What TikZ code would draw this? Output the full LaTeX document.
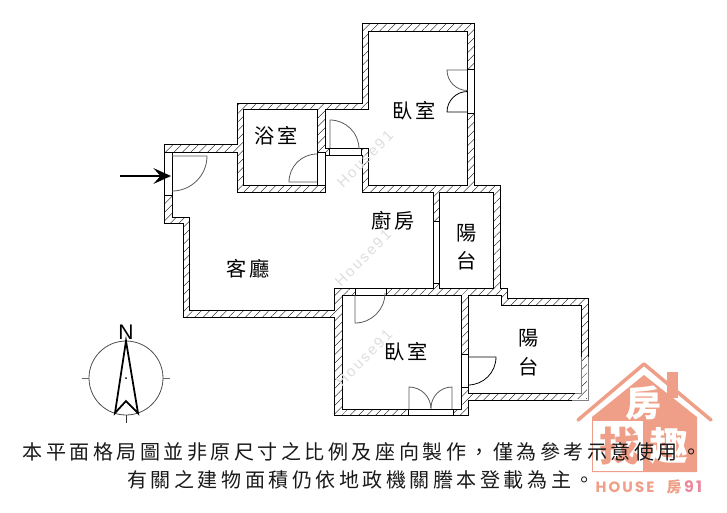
\documentclass[tikz,border=0pt]{standalone}
\usepackage{fontspec}
\usepackage{tikz}
\usetikzlibrary{arrows.meta,patterns.meta}
\setmainfont{Noto Sans CJK TC}
\newfontfamily\cjknote[LetterSpace=17.5]{Noto Sans CJK TC}
\newfontfamily\markfont[LetterSpace=14]{Liberation Sans}
\newfontfamily\logofont[LetterSpace=14]{Poppins}
\newfontfamily\northfont{Liberation Sans}
\definecolor{logosalmon}{HTML}{EF9F87}
\definecolor{logopink}{HTML}{E98A9C}
\tikzset{
  wall/.style={draw=black,line width=0.55pt,pattern={Lines[angle=45,distance=3.4pt,line width=0.2pt]}},
  room/.style={draw=black,line width=0.55pt,fill=white},
  opening/.style={draw=black,line width=0.5pt,fill=white},
  leaf/.style={draw=black!65,line width=0.45pt},
  roomlabel/.style={font=\fontsize{11.5}{12}\selectfont,inner sep=0pt},
  notetext/.style={font=\fontsize{11.4}{12}\cjknote,text=black!90,inner sep=0pt},
  watermark/.style={font=\fontsize{8.5}{9}\markfont,text=black!13,rotate=45,inner sep=0pt}
}
\begin{document}
\begin{tikzpicture}[x=0.02cm,y=-0.02cm,>=Stealth]
	\useasboundingbox (0,0) rectangle (727,512);

	% logo
	\fill [logosalmon] (667,372) rectangle (678,398);
	\fill [logosalmon] (592,417) -- (644,375) -- (697,417) -- (697,472) -- (592,472) -- cycle;
	\draw [logosalmon,line width=2pt,line cap=round,line join=round] (578,420) -- (644,364) -- (711,420);
	\fill [white] (593,421) rectangle (643,471);
	\node [white,font=\fontsize{20.5}{21}\selectfont\bfseries,inner sep=0pt] (logoRoom) at (644,403) {房};
	\node [logosalmon,font=\fontsize{23}{24}\selectfont\bfseries,inner sep=0pt] (logoFind) at (620,446) {找};
	\node [white,font=\fontsize{22}{23}\selectfont\bfseries,inner sep=0pt] (logoFun) at (669,446) {趣};
	\node [logosalmon,font=\fontsize{8.5}{9}\logofont\bfseries,inner sep=0pt] (logoHouse) at (625,487) {HOUSE};
	\node [logosalmon,font=\fontsize{8.5}{9}\selectfont\bfseries,inner sep=0pt] (logoFang) at (674,487) {房};
	\node [logopink,font=\fontsize{9}{10}\logofont\bfseries,inner sep=0pt] (logoNum) at (693,487) {91};

	% walls
	\path [wall] (164,144) -- (237,144) -- (237,103) -- (362,103) -- (362,23) -- (474,23) -- (474,185)
		-- (500,185) -- (500,288) -- (507,288) -- (507,298) -- (588,298) -- (588,400) -- (468,400)
		-- (468,415) -- (334,415) -- (334,317) -- (183,317) -- (183,223) -- (164,223) -- cycle;

	% rooms
	\path [room] (243,109) -- (317,109) -- (317,185) -- (243,185) -- cycle;
	\path [room] (368,31) -- (467,31) -- (467,185) -- (368,185) -- (368,148) -- (325,148) -- (325,109) -- (368,109) -- cycle;
	\path [room] (172,152) -- (237,152) -- (237,192) -- (325,192) -- (325,155) -- (362,155) -- (362,192) -- (433,192)
		-- (433,288) -- (334,288) -- (334,310) -- (189,310) -- (189,217) -- (172,217) -- cycle;
	\path [room] (439,192) -- (493,192) -- (493,288) -- (439,288) -- cycle;
	\path [room] (342,295) -- (461,295) -- (461,409) -- (342,409) -- cycle;
	\path [room] (468,295) -- (501,295) -- (501,305) -- (581,305) -- (581,393) -- (468,393) -- cycle;

	% grey end of the outer wall
	\draw [white,line width=0.8pt] (581,357) -- (581,393) -- (575,393);
	\draw [white,line width=0.8pt] (588,357) -- (588,400) -- (572,400);
	\draw [black!50,line width=0.55pt] (581,357) -- (581,393) -- (575,393);
	\draw [black!50,line width=0.55pt] (588,357) -- (588,400) -- (572,400);

	% openings in the walls
	\path [opening] (164,152) rectangle (172,195);
	\path [opening] (317,152) rectangle (325,185);
	\path [opening] (329,148) rectangle (361,155);
	\path [opening] (467,69) rectangle (474,113);
	\path [opening] (433,221) rectangle (439,283);
	\path [opening] (355,288) rectangle (386,295);
	\path [opening] (408,409) rectangle (453,415);
	\path [opening] (461,354) rectangle (468,387);

	% doors
	\draw [leaf] (172,156) -- (207,156) arc [start angle=0,end angle=90,radius=35];
	\draw [leaf] (317,182) -- (289,182) arc [start angle=180,end angle=270,radius=28];
	\draw [leaf] (330,148) -- (330,120) arc [start angle=270,end angle=360,radius=29];
	\draw [leaf] (467,70) -- (447,70) arc [start angle=180,end angle=90,radius=20.5];
	\draw [leaf,draw=black] (467,112) -- (447,112) arc [start angle=180,end angle=270,radius=20.5];
	\draw [leaf] (355,295) -- (355,323) arc [start angle=90,end angle=0,radius=30];
	\draw [leaf] (409,409) -- (409,387) arc [start angle=270,end angle=360,radius=22];
	\draw [leaf] (452,409) -- (452,387) arc [start angle=270,end angle=180,radius=21];
	\draw [leaf,draw=black] (468,357) -- (496,357) arc [start angle=0,end angle=90,radius=28];

	% entry arrow
	\coordinate (entryStart) at (120,176);
	\coordinate (entryTip) at (171,176);
	\draw [-{Stealth[length=10pt,width=9pt,inset=4pt]},line width=1.1pt] (entryStart) -- (entryTip);

	% compass
	\node [draw=black!70,line width=0.45pt,circle,minimum size=1.48cm,inner sep=0pt] (compass) at (126,378) {};
	\draw [black!60,line width=0.45pt] (compass.west) -- ++(-7,0);
	\draw [black!60,line width=0.45pt] (compass.east) -- ++(7,0);
	\draw [black!80,line width=0.45pt] (compass.south) -- ++(0,8);
	\fill [black] (compass.center) circle [radius=1];
	\draw [line width=1pt,line join=miter] (126,341) -- (138,413) -- (126,401) -- (115,413) -- cycle;
	\node [font=\fontsize{12}{13}\northfont,inner sep=0pt] (north) at (126,332) {N};

	% room names
	\node [roomlabel] (bathName) at (276,136) {浴\,室};
	\node [roomlabel] (bedNameA) at (414,111) {臥\,室};
	\node [roomlabel] (kitchenName) at (393,221) {廚\,房};
	\node [roomlabel] (yangA) at (467,233) {陽};
	\node [roomlabel] (taiA) at (467,261) {台};
	\node [roomlabel] (livingName) at (248,269) {客\,廳};
	\node [roomlabel] (bedNameB) at (406,352) {臥\,室};
	\node [roomlabel] (yangB) at (529,338) {陽};
	\node [roomlabel] (taiB) at (529,367) {台};

	% house91 marks
	\node [watermark] (markA) at (365,159) {House91};
	\node [watermark] (markB) at (363,258) {House91};
	\node [watermark] (markC) at (364,358) {House91};

	% note
	\node [notetext] (noteA) at (362,452) {本平面格局圖並非原尺寸之比例及座向製作，僅為參考示意使用。};
	\node [notetext] (noteB) at (361,480) {有關之建物面積仍依地政機關謄本登載為主。};
\end{tikzpicture}
\end{document}
